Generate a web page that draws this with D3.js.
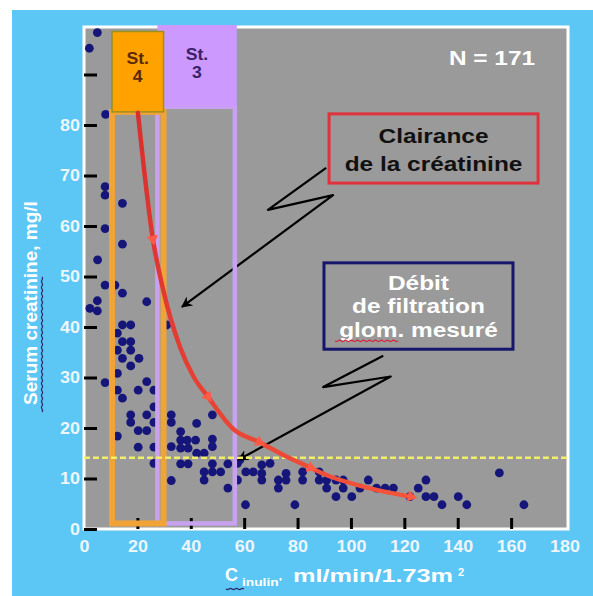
<!DOCTYPE html>
<html><head><meta charset="utf-8">
<script src="https://cdn.jsdelivr.net/npm/d3@7"></script>
<style>
body{margin:0;background:#fff}
svg{display:block}
text{font-family:Arial,"Liberation Sans",Helvetica,sans-serif;font-weight:bold}
</style>
</head><body>
<svg id="c" width="593" height="596"></svg>
<script>
// ---------- data ----------
const xTickValues = [20, 40, 60, 80, 100, 120, 140, 160];
const xTickLabels = [0, 20, 40, 60, 80, 100, 120, 140, 160, 180];
const yTickValues = [0, 10, 20, 30, 40, 50, 60, 70, 80, 90];
const yTickLabels = [0, 10, 20, 30, 40, 50, 60, 70, 80];

// measured GFR (Cinulin) vs serum creatinine
const gfr = [5.0,2.0,8.1,7.9,7.9,14.4,7.9,14.4,5.1,7.9,11.6,14.4,23.5,5.0,2.2,5.0,
  14.4,17.5,14.4,17.5,17.5,14.4,20.6,17.5,7.9,23.5,20.3,26.2,14.4,26.2,17.5,23.5,17.5,26.2,20.3,23.5,12.5,20.3,26.2,26.2,
  12.5,12.5,12.5,12.5,31.0,
  32.7,32.7,32.7,36.2,36.2,38.7,41.8,36.2,39.0,42.2,48.1,48.1,48.1,42.2,45.0,36.2,39.0,48.1,53.9,32.7,45.0,48.1,51.2,45.0,53.9,57.5,57.5,
  58.4,60.6,63.4,66.6,69.7,66.6,66.6,72.8,72.8,75.7,75.7,60.5,79.0,81.9,81.9,88.1,88.1,90.9,90.9,94.4,94.4,97.1,97.1,100.3,103.4,106.5,109.6,112.8,115.9,122.1,125.2,128.1,128.1,131.1,134.1,140.2,143.4,155.6,164.8];
const creat = [98.3,95.2,82.1,67.8,66.1,64.5,59.5,56.4,53.3,48.3,48.3,46.7,45.0,45.2,43.7,43.2,
  40.4,40.4,37.1,37.1,35.4,33.8,33.8,32.3,29.0,29.2,27.5,27.5,25.9,24.2,22.6,22.6,21.1,21.1,19.5,19.5,18.4,16.2,16.2,13.0,
  38.8,35.4,30.8,27.5,40.4,
  22.6,21.1,16.3,19.3,17.6,17.6,17.6,16.0,16.0,20.9,22.6,17.8,16.3,15.0,15.0,12.9,12.9,12.9,12.9,9.6,11.3,11.3,11.3,9.7,8.1,13.0,9.7,
  13.7,11.3,11.3,12.7,13.0,11.0,9.7,9.7,8.1,11.0,9.7,4.8,4.8,11.3,9.7,11.3,9.7,9.7,8.1,9.7,6.4,9.7,8.1,6.4,8.1,9.7,8.1,8.1,8.1,6.4,8.1,9.7,6.4,6.4,4.8,6.4,4.8,11.1,4.8];

// creatinine clearance curve
const clearX = [20.2, 25.8, 29.6, 36, 41, 46.4, 55.9, 65.7, 76, 80.5, 92.2, 104.6, 122.5];
const clearY = [82.4, 57.4, 47.5, 36, 30.2, 26.2, 19.8, 17.2, 14.3, 13.2, 10.4, 8.4, 6.4];
const clearMarkX = [25.8, 46.4, 65.7, 85, 122.5];

const refLevel = 14.1;   // yellow dashed line

// CKD stages (GFR ranges)
const stageNames = ["St.\n3", "St.\n4"];
const stageFrom = [27.5, 10.5];
const stageTo = [56.5, 29.8];
const stageHeadFrom = [83.6, 82.6];
const stageLabelAt = [42.3, 20.1];

const nText = "N = 171";
const clearText = ["Clairance", "de la créatinine"];
const dfgText = ["Débit", "de filtration", "glom. mesuré"];
const yTitle = "Serum creatinine, mg/l";

// annotation anchors (data coordinates)
const clearBox = {x0: 91.8, x1: 170.1, y0: 68.5, y1: 82.2};
const dfgBox = {x0: 89.9, x1: 160.7, y0: 35.6, y1: 52.7};
const arrow1 = [[90.7,71.5],[68.9,63.2],[93.3,66.1],[36.7,44.0]];
const arrow2 = [[112.1,34.3],[89.6,28.1],[114.9,30.2],[57.8,13.7]];

// ---------- drawing ----------
const W = 593, H = 596;
const svg = d3.select("#c");
const x = d3.scaleLinear().domain([0, 180]).range([84, 564.5]);
const y = d3.scaleLinear().domain([0, 100]).range([529, 24]);
const plotRight = 568, plotTop = 27;
const HS = 1.22; // horizontal text stretch of original

function stretch(sel, f) {
  sel.each(function () {
    const l = this.getComputedTextLength();
    d3.select(this).attr("textLength", l * f).attr("lengthAdjust", "spacingAndGlyphs");
  });
}
function wavy(x0, y0, x1, y1, step, amp) {
  const dx = x1 - x0, dy = y1 - y0, len = Math.hypot(dx, dy);
  const ux = dx / len, uy = dy / len, nx = -uy, ny = ux;
  let d = `M${x0},${y0}`; let s = 1;
  for (let t = step; t <= len; t += step) {
    const mx = x0 + ux * (t - step / 2) + nx * amp * s, my = y0 + uy * (t - step / 2) + ny * amp * s;
    d += ` Q${mx},${my} ${x0 + ux * t},${y0 + uy * t}`; s = -s;
  }
  return d;
}

svg.append("rect").attr("x", 12).attr("y", 10).attr("width", W - 12).attr("height", H - 10).attr("fill", "#5cc6f4");
svg.append("rect").attr("x", x(0)).attr("y", plotTop).attr("width", plotRight - x(0)).attr("height", y(0) - plotTop)
  .attr("fill", "#9a9a9a").attr("stroke", "#ffffff").attr("stroke-width", 3);

// axes
const gy = svg.append("g").attr("transform", `translate(${x(0)},0)`)
  .call(d3.axisLeft(y).tickValues(yTickValues).tickSizeInner(-13).tickSizeOuter(0).tickPadding(4)
    .tickFormat(d => yTickLabels.includes(d) ? d : ""));
gy.select(".domain").remove();
gy.selectAll(".tick line").attr("stroke", "#000").attr("stroke-width", 3);
gy.selectAll(".tick text").attr("fill", "#eef6fb").attr("font-size", 16).attr("font-family", "Arial, 'Liberation Sans', sans-serif").attr("font-weight", "bold");

const gxt = svg.append("g").attr("transform", `translate(0,${y(0)})`)
  .call(d3.axisBottom(x).tickValues(xTickValues).tickSizeInner(-11).tickSizeOuter(0).tickFormat(""));
gxt.select(".domain").remove();
gxt.selectAll(".tick line").attr("stroke", "#000").attr("stroke-width", 3);

const gxl = svg.append("g").attr("transform", `translate(0,${y(0)})`)
  .call(d3.axisBottom(x).tickValues(xTickLabels).tickSize(0).tickPadding(12));
gxl.select(".domain").remove();
gxl.selectAll(".tick text").attr("fill", "#eef6fb").attr("font-size", 16).attr("font-family", "Arial, 'Liberation Sans', sans-serif").attr("font-weight", "bold");

// scatter
svg.append("g").selectAll("circle").data(gfr).join("circle")
  .attr("cx", d => x(d)).attr("cy", (d, i) => y(creat[i])).attr("r", 4.4).attr("fill", "#15157a");

// arrows
const defs = svg.append("defs");
defs.append("marker").attr("id", "ah").attr("viewBox", "0 0 10 10").attr("refX", 9).attr("refY", 5)
  .attr("markerWidth", 5).attr("markerHeight", 5).attr("orient", "auto")
  .append("path").attr("d", "M0,0 L10,5 L0,10 L3,5 z").attr("fill", "#000");
const aline = d3.line().x(d => x(d[0])).y(d => y(d[1]));
[arrow1, arrow2].forEach(a => {
  svg.append("path").attr("d", aline(a)).attr("fill", "none").attr("stroke", "#000").attr("stroke-width", 2.2)
    .attr("stroke-linejoin", "round").attr("marker-end", "url(#ah)");
});

// stages
const stageFill = ["#cc99ff", "#ffa200"], stageStroke = ["#c9a2ef", "#f2a336"], stageText = ["#3a1f68", "#5a2a08"];
const stageHeadStroke = ["#c9a2ef", "#9c8f1e"];
stageNames.forEach((nm, i) => {
  svg.append("rect").attr("x", x(stageFrom[i])).attr("y", y(stageHeadFrom[i]))
    .attr("width", x(stageTo[i]) - x(stageFrom[i])).attr("height", y(1.1) - y(stageHeadFrom[i]))
    .attr("fill", "none").attr("stroke", stageStroke[i]).attr("stroke-width", i === 0 ? 4.5 : 6);
  const top = i === 0 ? 25 : 31.5;
  svg.append("rect").attr("x", x(stageFrom[i])).attr("y", top)
    .attr("width", x(stageTo[i]) - x(stageFrom[i]) + (i === 0 ? 2 : 0)).attr("height", y(stageHeadFrom[i]) - top)
    .attr("fill", stageFill[i]).attr("stroke", stageHeadStroke[i]).attr("stroke-width", i === 0 ? 0 : 1.5);
  const lines = nm.split("\n");
  lines.forEach((l, k) => {
    const t = svg.append("text").attr("text-anchor", "middle").attr("fill", stageText[i]).attr("font-size", 16)
      .attr("x", x(stageLabelAt[i])).attr("y", (i === 0 ? 60 : 64) + k * 18).text(l);
    stretch(t, 1.1);
  });
});

// reference line
svg.append("line").attr("x1", x(0)).attr("x2", plotRight).attr("y1", y(refLevel)).attr("y2", y(refLevel))
  .attr("stroke", "#f2ee6a").attr("stroke-width", 2.5).attr("stroke-dasharray", "6,3");

// clearance curve
const cline = d3.line().x(d => x(d[0])).y(d => y(d[1])).curve(d3.curveMonotoneX);
const cpts = clearX.map((v, i) => [v, clearY[i]]);
const grad = defs.append("linearGradient").attr("id", "cg").attr("x1", "0").attr("y1", "0").attr("x2", "1").attr("y2", "1");
grad.append("stop").attr("offset", "0").attr("stop-color", "#d92f2f");
grad.append("stop").attr("offset", "1").attr("stop-color", "#f4553a");
svg.append("path").attr("d", cline(cpts)).attr("fill", "none").attr("stroke", "url(#cg)").attr("stroke-width", 4.5)
  .attr("stroke-linecap", "round");
clearMarkX.forEach(mx => {
  const yi = d3.scaleLinear().domain(clearX).range(clearY);
  const px = x(mx), py = y(yi(mx));
  const px2 = x(mx + 1), py2 = y(yi(mx + 1));
  const ang = Math.atan2(py2 - py, px2 - px) * 180 / Math.PI + 90;
  svg.append("path").attr("d", d3.symbol(d3.symbolTriangle, 55)())
    .attr("transform", `translate(${px},${py}) rotate(${ang})`).attr("fill", "#ff5a45");
});

// annotation boxes
function box(b, stroke, lines, color, offs) {
  const x0 = x(b.x0), x1 = x(b.x1), y0 = y(b.y1), y1 = y(b.y0);
  svg.append("rect").attr("x", x0).attr("y", y0).attr("width", x1 - x0).attr("height", y1 - y0)
    .attr("fill", "none").attr("stroke", stroke).attr("stroke-width", 3);
  const cx = (x0 + x1) / 2;
  lines.forEach((l, k) => {
    const t = svg.append("text").attr("x", cx).attr("y", y0 + offs[k]).attr("text-anchor", "middle")
      .attr("fill", color).attr("font-size", 20).text(l);
    stretch(t, HS);
  });
  return {x0, y0};
}
box(clearBox, "#e0323c", clearText, "#111111", [29, 57]);
const db = box(dfgBox, "#16166c", dfgText, "#ffffff", [27, 50, 74]);
// spellcheck underline under "glom."
svg.append("path").attr("d", wavy(db.x0 + 11, db.y0 + 78, db.x0 + 74, db.y0 + 78, 3, 1.3))
  .attr("fill", "none").attr("stroke", "#d8203a").attr("stroke-width", 1.2);

// N label
const nt = svg.append("text").attr("x", 492).attr("y", 65).attr("text-anchor", "middle").attr("fill", "#ffffff")
  .attr("font-size", 20).text(nText);
stretch(nt, HS);

// stretch tick labels
stretch(gy.selectAll(".tick text"), 1.12);
stretch(gxl.selectAll(".tick text"), 1.12);

// y title
svg.append("text").attr("transform", `translate(37,303) rotate(-90)`).attr("text-anchor", "middle")
  .attr("fill", "#ffffff").attr("font-size", 19).text(yTitle);
svg.append("path").attr("d", wavy(42, 412, 42, 277, 3, 1.3)).attr("fill", "none").attr("stroke", "#2a2a6a").attr("stroke-width", 1.2);

// x title
svg.append("text").attr("x", 225).attr("y", 581).attr("fill", "#ffffff").attr("font-size", 18).text("C");
const sub = svg.append("text").attr("x", 242).attr("y", 586).attr("fill", "#ffffff").attr("font-size", 11).text("inulin'");
stretch(sub, 1.25);
svg.append("path").attr("d", wavy(226, 589, 246, 589, 3, 1.2)).attr("fill", "none").attr("stroke", "#2a2a6a").attr("stroke-width", 1.2);
svg.append("text").attr("x", 293).attr("y", 582).attr("fill", "#ffffff").attr("font-size", 18)
  .attr("textLength", 160).attr("lengthAdjust", "spacingAndGlyphs").text("ml/min/1.73m");
svg.append("text").attr("x", 458).attr("y", 576).attr("fill", "#ffffff").attr("font-size", 11).text("2");
</script>
</body></html>
